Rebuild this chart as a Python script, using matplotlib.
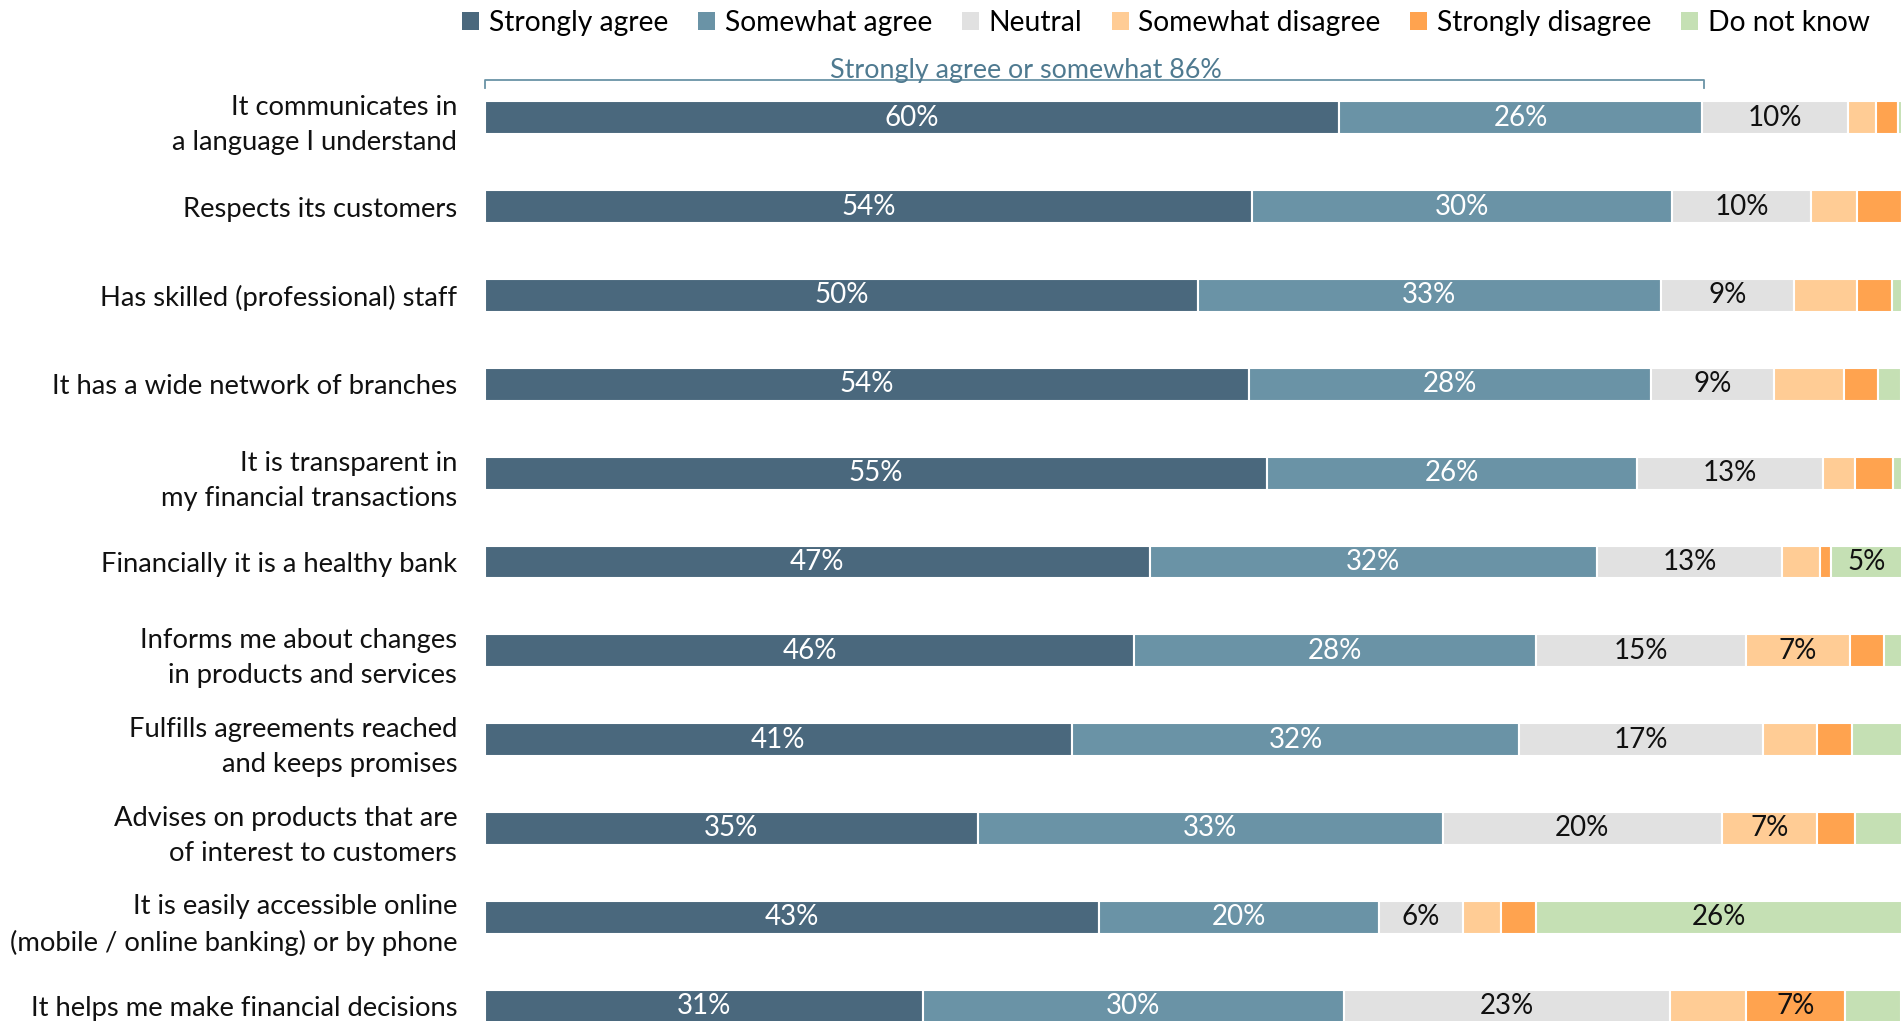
import numpy as np
import matplotlib
matplotlib.use("Agg")
import matplotlib.pyplot as plt
from matplotlib.patches import Patch

plt.rcParams['font.family'] = ['Lato', 'DejaVu Sans']

# statements, top to bottom
statements = [
    "It communicates in\na language I understand",
    "Respects its customers",
    "Has skilled (professional) staff",
    "It has a wide network of branches",
    "It is transparent in\nmy financial transactions",
    "Financially it is a healthy bank",
    "Informs me about changes\nin products and services",
    "Fulfills agreements reached\nand keeps promises",
    "Advises on products that are\nof interest to customers",
    "It is easily accessible online\n(mobile / online banking) or by phone",
    "It helps me make financial decisions",
]

# shares in % per answer
strongly_agree = [60.3, 54.1, 50.3, 53.9, 55.2, 46.9, 45.8, 41.4, 34.8, 43.3, 30.9]
somewhat_agree = [25.6, 29.7, 32.7, 28.4, 26.1, 31.6, 28.4, 31.6, 32.8, 19.8, 29.7]
neutral = [10.3, 9.8, 9.4, 8.7, 13.1, 13.0, 14.8, 17.2, 19.7, 5.9, 23.0]
somewhat_disagree = [2.0, 3.2, 4.4, 4.9, 2.3, 2.7, 7.3, 3.8, 6.7, 2.7, 5.4]
strongly_disagree = [1.5, 3.2, 2.5, 2.4, 2.7, 0.8, 2.4, 2.5, 2.7, 2.5, 7.0]
do_not_know = [0.3, 0.0, 0.7, 1.6, 0.6, 5.0, 1.3, 3.5, 3.3, 25.8, 3.9]

series_names = ["Strongly agree", "Somewhat agree", "Neutral",
                "Somewhat disagree", "Strongly disagree", "Do not know"]
series = [strongly_agree, somewhat_agree, neutral,
          somewhat_disagree, strongly_disagree, do_not_know]
colors = ["#4a687d", "#6a93a6", "#e1e1e1", "#ffcc95", "#ffa34f", "#c5e0b4"]
text_colors = ["white", "white", "#111111", "#111111", "#111111", "#111111"]
# smallest value that still gets a label, per series
label_min = [0, 0, 0, 6.5, 6.5, 5.0]

bracket_value = 86

fig = plt.figure(figsize=(19.01, 10.21), dpi=100)
# axes run off the right and bottom edge like the original screenshot
ax = fig.add_axes([0.2551, -0.0289, 0.7454, 0.957])

y = np.arange(len(statements))
left = np.zeros(len(statements))
for k in range(len(series)):
    vals = np.array(series[k])
    ax.barh(y, vals, left=left, height=0.37, color=colors[k],
            edgecolor="white", linewidth=1.5)
    for i in range(len(vals)):
        if vals[i] > 0 and vals[i] >= label_min[k]:
            ax.text(left[i] + vals[i] / 2, y[i], "%d%%" % round(vals[i]),
                    ha="center", va="center", fontsize=20,
                    color=text_colors[k])
    left += vals

ax.set_xlim(0, 100)
ax.set_ylim(len(statements) - 0.5, -0.5)
ax.set_yticks(y)
ax.set_yticklabels(statements, fontsize=19.7, color="#111111",
                   linespacing=1.5)
ax.tick_params(axis="y", length=0, pad=20)
ax.tick_params(axis="x", bottom=False, labelbottom=False)
for s in ax.spines.values():
    s.set_visible(False)

# bracket over the agree part of the first bar
by = -0.43
ax.plot([0, 0, bracket_value, bracket_value], [by + 0.09, by, by, by + 0.09],
        color="#6a93a6", lw=1.3, clip_on=False)
ax.text(38.2, by + 0.04,
        "Strongly agree or somewhat %d%%" % bracket_value,
        ha="center", va="bottom", fontsize=19.4, color="#4f7a90")

handles = [Patch(facecolor=c, edgecolor="none") for c in colors]
fig.legend(handles, series_names, loc="upper right",
           bbox_to_anchor=(0.997, 1.015), ncol=6, frameon=False,
           fontsize=20.3, handlelength=0.6, handleheight=0.6,
           handletextpad=0.35, columnspacing=1.05)

plt.savefig("out.png", dpi=100)
